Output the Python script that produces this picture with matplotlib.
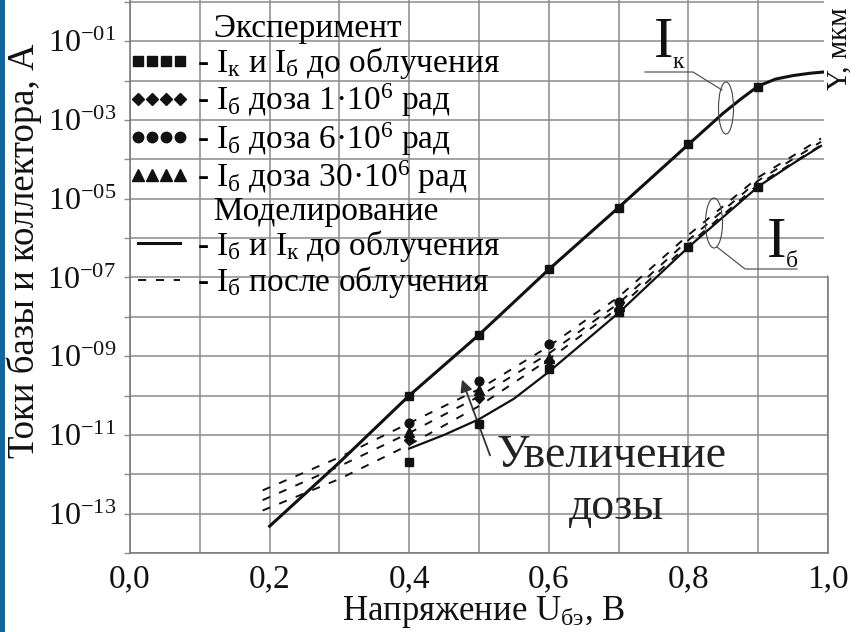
import numpy as np
import matplotlib
matplotlib.use("Agg")
import matplotlib.pyplot as plt
from matplotlib.lines import Line2D
from matplotlib.patches import Ellipse, Rectangle
from matplotlib.ticker import FixedLocator, FixedFormatter, FuncFormatter

plt.rcParams['font.family'] = ['Liberation Serif', 'DejaVu Serif']
plt.rcParams['mathtext.fontset'] = 'custom'
plt.rcParams['mathtext.rm'] = 'Liberation Serif'
plt.rcParams['mathtext.it'] = 'Liberation Serif:italic'
plt.rcParams['mathtext.bf'] = 'Liberation Serif:bold'

# --- data, voltage in V, current in A ---
u_ic_model = [0.20, 0.30, 0.40, 0.50, 0.60, 0.70, 0.80, 0.85, 0.875, 0.90,
              0.925, 0.95, 0.975, 1.00]
ic_model = [4.8e-14, 2.0e-12, 1.0e-10, 3.5e-09, 1.6e-07, 6.0e-06, 2.4e-04,
            1.5e-03, 3.4e-03, 7.3e-03, 1.1e-02, 1.35e-02, 1.55e-02, 1.7e-02]

u_ib_model = [0.40, 0.45, 0.50, 0.55, 0.60, 0.70, 0.80, 0.90, 0.95, 0.99]
ib_model = [4.5e-12, 1.0e-11, 2.5e-11, 8.3e-11, 4.0e-10, 1.26e-08, 5.9e-07,
            2.04e-05, 7.9e-05, 2.2e-04]

u_irr = [0.19, 0.30, 0.40, 0.50, 0.60, 0.70, 0.80, 0.90, 0.99]
ib_irr_1 = [3.9e-13, 2.7e-12, 2.0e-11, 1.45e-10, 1.78e-09, 3.2e-08, 1.2e-06, 3.5e-05, 3.4e-04]
ib_irr_2 = [2.2e-13, 1.6e-12, 1.12e-11, 9.5e-11, 1.17e-09, 2.2e-08, 8.9e-07, 2.9e-05, 2.8e-04]
ib_irr_3 = [1.2e-13, 7.6e-13, 5.6e-12, 5.4e-11, 8.3e-10, 1.7e-08, 6.8e-07, 2.3e-05, 2.3e-04]

u_exp = [0.4, 0.5, 0.6, 0.7, 0.8, 0.9]
ic_exp = [1.0e-10, 3.4e-09, 1.66e-07, 5.75e-06, 2.5e-04, 6.9e-03]
ib_exp = [2.0e-12, 1.95e-11, 4.7e-10, 1.3e-08, 5.9e-07, 2.04e-05]

u_dose = [0.4, 0.5, 0.6, 0.7]
ib_dose_1 = [7.4e-12, 8.5e-11, 7.6e-10, 1.6e-08]
ib_dose_6 = [2.0e-11, 2.4e-10, 2.0e-09, 2.4e-08]
ib_dose_30 = [1.2e-11, 1.4e-10, 8.9e-10, 1.9e-08]

x_ticks = [0.0, 0.1, 0.2, 0.3, 0.4, 0.5, 0.6, 0.7, 0.8, 0.9, 1.0]
x_tick_labels = ["0,0", "", "0,2", "", "0,4", "", "0,6", "", "0,8", "", "1,0"]
y_exponents = list(range(-14, 1))

legend_labels = [
    "  Эксперимент",
    r"- I$_{\mathrm{к}}$ и I$_{\mathrm{б}}$ до облучения",
    r"- I$_{\mathrm{б}}$ доза 1·10$^{6}$ рад",
    r"- I$_{\mathrm{б}}$ доза 6·10$^{6}$ рад",
    r"- I$_{\mathrm{б}}$ доза 30·10$^{6}$ рад",
    "  Моделирование",
    r"- I$_{\mathrm{б}}$ и I$_{\mathrm{к}}$ до облучения",
    r"- I$_{\mathrm{б}}$ после облучения",
]

INK = "#111111"
GRID = "#8a8a8a"
W, H = 850, 632


def px(x, y):
    # image pixel -> figure fraction
    return (x / W, 1 - y / H)


fig = plt.figure(figsize=(8.5, 6.32), dpi=100)
ax = fig.add_axes([130 / W, 1 - 553 / H, 698 / W, 553 / H])
ax.set_yscale("log")
ax.set_xlim(0, 1.0)
ax.set_ylim(1e-14, 10 ** 0.05)

# model curves
ax.plot(u_ic_model, ic_model, color=INK, lw=2.2, zorder=3)
ax.plot(u_ib_model, ib_model, color=INK, lw=1.6, zorder=3)
for arr in (ib_irr_1, ib_irr_2, ib_irr_3):
    ax.plot(u_irr, arr, color=INK, lw=1.4, ls=(0, (4.2, 5.0)), zorder=3)

# experiment points
ax.plot(u_dose, ib_dose_1, ls="none", marker="D", ms=5, color=INK, zorder=4)
ax.plot(u_dose, ib_dose_30, ls="none", marker="^", ms=6.5, color=INK, zorder=4)
ax.plot(u_dose, ib_dose_6, ls="none", marker="o", ms=6.3, color=INK, zorder=4)
ax.plot(u_exp, ic_exp, ls="none", marker="s", ms=6.3, color=INK, zorder=5)
ax.plot(u_exp, ib_exp, ls="none", marker="s", ms=6.3, color=INK, zorder=5)

# axes styling
ax.xaxis.set_major_locator(FixedLocator(x_ticks))
ax.xaxis.set_major_formatter(FixedFormatter(x_tick_labels))
ax.yaxis.set_major_locator(FixedLocator([10.0 ** e for e in y_exponents]))
ax.yaxis.set_minor_locator(FixedLocator([]))


def ytick_fmt(v, pos):
    e = int(round(np.log10(v)))
    return r"$10^{-%02d}$" % (-e) if e % 2 else ""


ax.yaxis.set_major_formatter(FuncFormatter(ytick_fmt))
ax.grid(True, which="major", color=GRID, lw=1.1)
ax.set_axisbelow(True)
ax.tick_params(axis="x", length=0, pad=8, labelsize=24, colors=INK)
ax.tick_params(axis="y", length=4, width=1, pad=6, labelsize=23, color=GRID, labelcolor=INK)
ax.spines["top"].set_visible(False)
for s in ("left", "bottom", "right"):
    ax.spines[s].set_color("#777777")
    ax.spines[s].set_linewidth(1.1)
ax.spines["right"].set_bounds(1e-14, 1e-7)

ax.set_xlabel(r"Напряжение U$_{\mathrm{бэ}}$, В", fontsize=25, color=INK)
ax.xaxis.set_label_coords(0.506, -0.074)
ax.set_ylabel("Токи базы и коллектора, А", fontsize=26.5, color=INK)
ax.yaxis.set_label_coords(-0.126, 0.546)

# legend
blank = Line2D([], [], ls="none")
handles = [
    blank,
    Line2D([], [], ls="none", marker="s", ms=7.5, color=INK),
    Line2D([], [], ls="none", marker="D", ms=6, color=INK),
    Line2D([], [], ls="none", marker="o", ms=7.5, color=INK),
    Line2D([], [], ls="none", marker="^", ms=8, color=INK),
    blank,
    Line2D([], [], color=INK, lw=2.2),
    Line2D([], [], color=INK, lw=1.4, ls=(0, (4.2, 5.0))),
]
ax.legend(handles, legend_labels, loc="upper left", bbox_to_anchor=px(128, 14),
          bbox_transform=fig.transFigure, frameon=False, fontsize=24,
          numpoints=4, handlelength=1.85, handletextpad=0.22, labelspacing=0.02,
          borderpad=0, borderaxespad=0)

# annotations
fig.text(*px(654, 57), "I", fontsize=42, color=INK, va="baseline")
fig.text(*px(673, 68), "к", fontsize=17, color=INK, va="baseline")
fig.add_artist(Line2D(*zip(px(645, 72), px(693, 72), px(722, 90)),
                      transform=fig.transFigure, color="#444444", lw=0.8))
fig.add_artist(Ellipse(px(726, 108), 15 / W, 52 / H, transform=fig.transFigure,
                       fill=False, ec="#444444", lw=0.8))

fig.text(*px(767, 257), "I", fontsize=42, color=INK, va="baseline")
fig.text(*px(786, 267), "б", fontsize=17, color=INK, va="baseline")
fig.add_artist(Line2D(*zip(px(717, 247), px(745, 269), px(797, 269)),
                      transform=fig.transFigure, color="#444444", lw=0.8))
fig.add_artist(Ellipse(px(714, 223), 17 / W, 50 / H, transform=fig.transFigure,
                       fill=False, ec="#444444", lw=0.8))

fig.text(*px(496, 467), "Увеличение", fontsize=33, color="#222222", va="baseline")
fig.text(*px(569, 519), "дозы", fontsize=33, color="#222222", va="baseline")
ax.annotate("", xy=px(461, 377), xytext=px(491, 458), xycoords="figure fraction",
            textcoords="figure fraction",
            arrowprops=dict(arrowstyle="-|>", color="#333333", lw=1.3, mutation_scale=18))

# neighbour chart label and page edge
fig.add_artist(Rectangle(px(824, 275), 30 / W, 280 / H, transform=fig.transFigure,
                         color="white", lw=0, zorder=0.5))
fig.text(*px(846, 90), "Y, мкм", fontsize=21, color=INK, rotation=90,
         rotation_mode="anchor", ha="left", va="baseline")
fig.add_artist(Rectangle((0, 0), 5 / W, 1, transform=fig.transFigure,
                         color="#0d68a6", lw=0))

fig.savefig("out.png", dpi=100, facecolor="white")
